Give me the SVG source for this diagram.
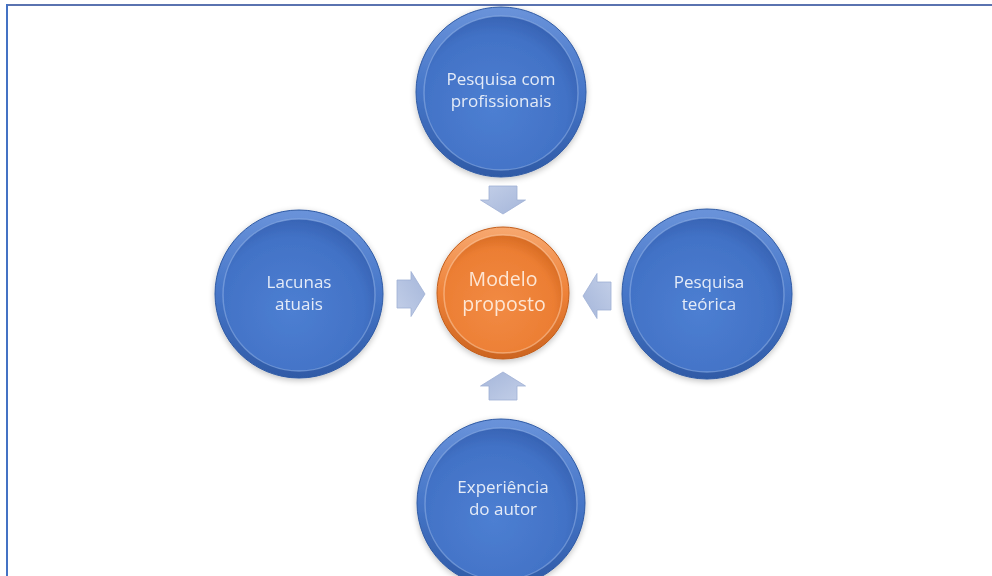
<svg xmlns="http://www.w3.org/2000/svg" width="992" height="576" viewBox="0 0 992 576">
  <defs>
    <!-- bevelled disc shading -->
    <linearGradient id="blueRim" x1="0" y1="0" x2="0" y2="1">
      <stop offset="0" stop-color="#6a93da"/>
      <stop offset="0.5" stop-color="#4676c8"/>
      <stop offset="1" stop-color="#2f5aa6"/>
    </linearGradient>
    <radialGradient id="blueFace" cx="0.45" cy="0.6" r="0.6">
      <stop offset="0" stop-color="#4d7fd2"/>
      <stop offset="0.8" stop-color="#4272c6"/>
      <stop offset="1" stop-color="#3864b5"/>
    </radialGradient>
    <linearGradient id="orangeRim" x1="0" y1="0" x2="0" y2="1">
      <stop offset="0" stop-color="#f7a870"/>
      <stop offset="0.5" stop-color="#ee8238"/>
      <stop offset="1" stop-color="#cc6420"/>
    </linearGradient>
    <radialGradient id="orangeFace" cx="0.45" cy="0.6" r="0.6">
      <stop offset="0" stop-color="#f18a44"/>
      <stop offset="0.8" stop-color="#ec7e33"/>
      <stop offset="1" stop-color="#d96d25"/>
    </radialGradient>
    <linearGradient id="arrowFill" x1="0" y1="0" x2="1" y2="1">
      <stop offset="0" stop-color="#c3cfe8"/>
      <stop offset="1" stop-color="#a5b6da"/>
    </linearGradient>
    <filter id="soft" x="-20%" y="-20%" width="140%" height="150%">
      <feGaussianBlur in="SourceAlpha" stdDeviation="3"/>
      <feOffset dy="2"/>
      <feComponentTransfer><feFuncA type="linear" slope="0.25"/></feComponentTransfer>
      <feMerge><feMergeNode/><feMergeNode in="SourceGraphic"/></feMerge>
    </filter>
    <!-- block arrow pointing down, centred on the origin -->
    <path id="blockArrow" d="M-14,-14 H14 V0 H22.5 L0,14 L-22.5,0 H-14 Z"/>
  </defs>
  <style>
    .rim { stroke: #2f5aa4; stroke-width: 1; }
    .face { stroke: #8fb0e6; stroke-opacity: 0.55; stroke-width: 1.5; }
    .rimO { stroke: #c25e1c; stroke-width: 1; }
    .faceO { stroke: #fbc49b; stroke-opacity: 0.6; stroke-width: 1.5; }
    .label { font-family: "Open Sans", "Noto Sans", sans-serif; font-size: 17px; fill: #e4ebf7; text-anchor: middle; }
    .labelO { font-family: "Open Sans", "Noto Sans", sans-serif; font-size: 19.5px; fill: #fde6d4; text-anchor: middle; }
    .arrow { fill: url(#arrowFill); stroke: #9fb0d4; stroke-width: 0.8; }
  </style>

  <rect width="992" height="576" fill="#ffffff"/>

  <!-- page frame -->
  <line x1="6" y1="5" x2="992" y2="5" stroke="#5a73b0" stroke-width="2"/>
  <line x1="7" y1="4" x2="7" y2="576" stroke="#4472c4" stroke-width="2"/>

  <!-- connectors -->
  <g id="connectors">
    <use href="#blockArrow" class="arrow" transform="translate(503,200)"/>
    <use href="#blockArrow" class="arrow" transform="translate(503,386) rotate(180)"/>
    <use href="#blockArrow" class="arrow" transform="translate(411,294) rotate(-90)"/>
    <use href="#blockArrow" class="arrow" transform="translate(597,296) rotate(90)"/>
  </g>

  <g id="node-pesquisa-profissionais" filter="url(#soft)">
    <circle cx="501" cy="92" r="85" fill="url(#blueRim)" class="rim"/>
    <circle cx="501" cy="93" r="77" fill="url(#blueFace)" class="face"/>
    <text class="label" x="501" y="85">Pesquisa com</text>
    <text class="label" x="501" y="107">profissionais</text>
  </g>

  <g id="node-lacunas" filter="url(#soft)">
    <circle cx="299" cy="294" r="84" fill="url(#blueRim)" class="rim"/>
    <circle cx="299" cy="295" r="76" fill="url(#blueFace)" class="face"/>
    <text class="label" x="299" y="288">Lacunas</text>
    <text class="label" x="299" y="310">atuais</text>
  </g>

  <g id="node-pesquisa-teorica" filter="url(#soft)">
    <circle cx="707" cy="294" r="85" fill="url(#blueRim)" class="rim"/>
    <circle cx="707" cy="295" r="77" fill="url(#blueFace)" class="face"/>
    <text class="label" x="709" y="288">Pesquisa</text>
    <text class="label" x="709" y="310">teórica</text>
  </g>

  <g id="node-experiencia" filter="url(#soft)">
    <circle cx="501" cy="503" r="84" fill="url(#blueRim)" class="rim"/>
    <circle cx="501" cy="504" r="76" fill="url(#blueFace)" class="face"/>
    <text class="label" x="503" y="493">Experiência</text>
    <text class="label" x="503" y="515">do autor</text>
  </g>

  <g id="node-modelo" filter="url(#soft)">
    <circle cx="503" cy="293" r="66" fill="url(#orangeRim)" class="rimO"/>
    <circle cx="503" cy="294" r="59" fill="url(#orangeFace)" class="faceO"/>
    <text class="labelO" x="503" y="286">Modelo</text>
    <text class="labelO" x="504" y="311">proposto</text>
  </g>
</svg>
